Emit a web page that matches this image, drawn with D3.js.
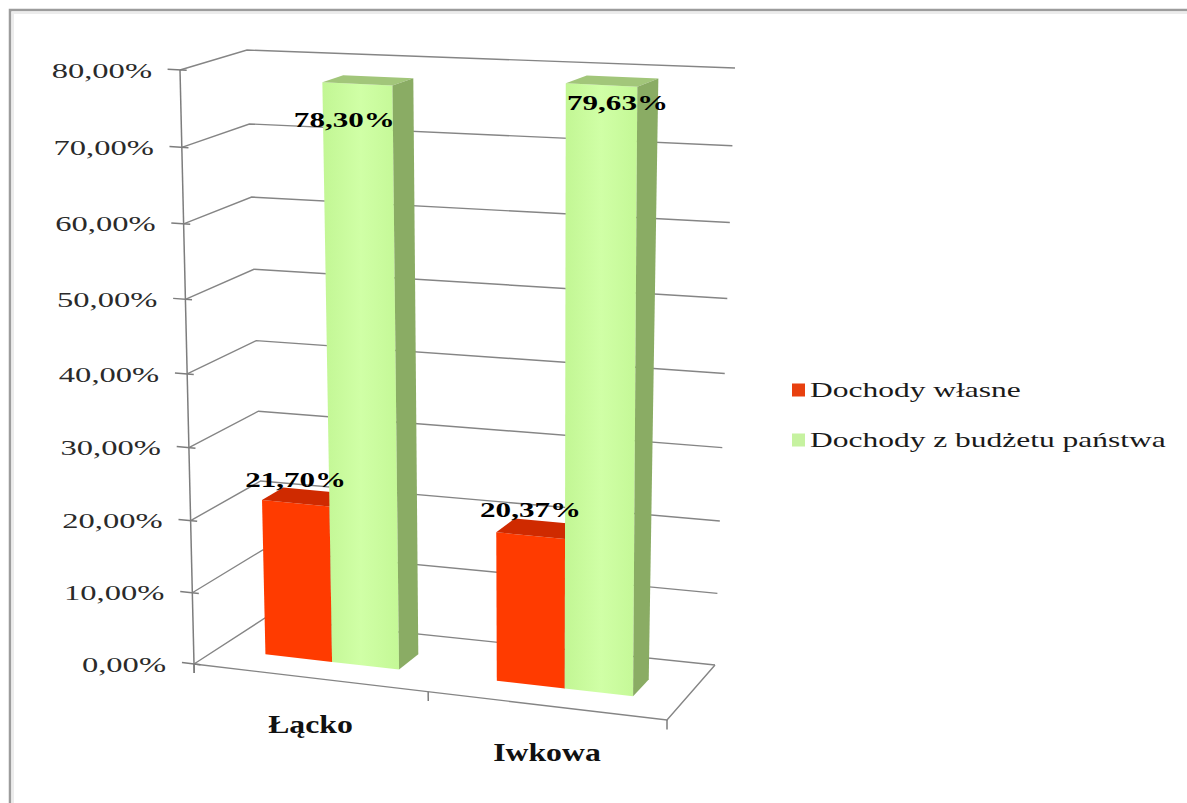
<!DOCTYPE html>
<html>
<head>
<meta charset="utf-8">
<script src="https://cdn.jsdelivr.net/npm/d3@7"></script>
<style>
  html, body { margin: 0; padding: 0; background: #fff; }
  svg { display: block; }
  text { font-family: "Liberation Serif", "Times New Roman", serif; }
</style>
</head>
<body>
<svg id="chart" width="1187" height="803"></svg>
<script>
// ---- data ----
const categories = ["Łącko", "Iwkowa"];
const seriesNames = ["Dochody własne", "Dochody z budżetu państwa"];
const ownIncome = [21.70, 20.37];      // Dochody własne (%)
const stateBudget = [78.30, 79.63];    // Dochody z budżetu państwa (%)
const yTicks = [0, 10, 20, 30, 40, 50, 60, 70, 80];

// ---- layout ----
const W = 1187, H = 803;
// screen corners of the 3D plot box (front/back, left/right, bottom/top)
const C = {
  flb: [194, 664], flt: [180, 70],
  frb: [667, 720], frt: [667, 95],
  blb: [265, 618], blt: [247, 50],
  brb: [715, 665], brt: [735, 68]
};
const RU = 1.02, RV = 1.048;     // perspective foreshortening along x and y
const W0 = 0.33, W1 = 0.64;      // bar depth range inside the floor
const colors = {
  own: { front: "#ff3b00", top: "#cf2a00", side: "#b02000", key: "#e8400f" },
  state: { front: "url(#greenFront)", top: "#a2c67a", side: "#8aac64", key: "#c6f2a0" }
};
// label nudges relative to the top-front centre of each bar [series][category]
const labelNudge = [[[0, -24], [0, -26]], [[-13, 36], [16, 18]]];

const svg = d3.select("#chart");
const defs = svg.append("defs");
const g1 = defs.append("linearGradient").attr("id", "greenFront")
  .attr("x1", "0").attr("x2", "1").attr("y1", "0").attr("y2", "0");
g1.append("stop").attr("offset", "0%").attr("stop-color", "#c2f694");
g1.append("stop").attr("offset", "50%").attr("stop-color", "#d0ffa6");
g1.append("stop").attr("offset", "100%").attr("stop-color", "#c4f896");

// white background and chart border
svg.append("rect").attr("width", W).attr("height", H).attr("fill", "#fff");
svg.append("path").attr("d", `M10,${H} L10,10 L${W},10`)
  .attr("fill", "none").attr("stroke", "#9c9c9c").attr("stroke-width", 2.5);
svg.append("path").attr("d", `M13,${H} L13,13 L${W},13`)
  .attr("fill", "none").attr("stroke", "#ececec").attr("stroke-width", 2);

// ---- scales ----
const yScale = d3.scaleLinear().domain([0, 80]).range([0, 1]);
const x0 = d3.scaleBand().domain(categories).range([0, 1])
  .paddingInner(0.42).paddingOuter(0.21);
const x1 = d3.scaleBand().domain(["own", "state"]).range([0, x0.bandwidth()]);

// ---- 3D projection (perspective-warped trilinear box) ----
const warp = (t, r) => t / (r - (r - 1) * t);
const lerp = (p, q, t) => [p[0] + (q[0] - p[0]) * t, p[1] + (q[1] - p[1]) * t];
function project(u, v, w) {
  const a = warp(u, RU), b = warp(v, RV);
  const fb = lerp(C.flb, C.frb, a), ft = lerp(C.flt, C.frt, a);
  const bb = lerp(C.blb, C.brb, a), bt = lerp(C.blt, C.brt, a);
  return lerp(lerp(fb, ft, b), lerp(bb, bt, b), w);
}
const line = d3.line();
const poly = pts => line(pts.map(p => project(...p))) + "Z";
const seg = (a, b) => line([project(...a), project(...b)]);

// ---- walls: gridlines on the left and back walls ----
const grid = svg.append("g").attr("fill", "none")
  .attr("stroke", "#858585").attr("stroke-width", 1.4);
yTicks.forEach(t => {
  const v = yScale(t);
  grid.append("path").attr("d", line([project(0, v, 0), project(0, v, 1), project(1, v, 1)]));
});
// floor outline
grid.append("path").attr("d", line([project(0, 0, 0), project(1, 0, 0), project(1, 0, 1)]));

// value axis and its tick marks
const axis = svg.append("g").attr("fill", "none")
  .attr("stroke", "#7d7d7d").attr("stroke-width", 1.5);
axis.append("path").attr("d", seg([0, -0.016, 0], [0, 1, 0]));
yTicks.forEach(t => {
  const v = yScale(t);
  axis.append("path").attr("d", seg([-0.026, v, 0], [0.014, v, 0]));
});
// category tick marks on the floor front edge
[0, 0.5, 1].forEach(u => axis.append("path").attr("d", seg([u, 0, 0], [u, -0.016, 0])));

// value axis labels
const fmt = t => t.toFixed(2).replace(".", ",") + "%";
yTicks.forEach(t => {
  const p = project(0, yScale(t), 0);
  svg.append("text")
    .attr("transform", `translate(${p[0] - 28},${p[1]}) scale(1.48,1)`)
    .attr("text-anchor", "end").attr("dy", "0.35em")
    .attr("font-size", 22).attr("fill", "#2a2a2a")
    .text(fmt(t));
});

// category labels
categories.forEach(c => {
  const p = project(x0(c) + x0.bandwidth() / 2, 0, 0);
  svg.append("text")
    .attr("transform", `translate(${p[0]},${p[1] + 46}) scale(1.27,1)`)
    .attr("text-anchor", "middle").attr("dy", "0.35em")
    .attr("font-size", 25).attr("font-weight", "bold").attr("fill", "#111")
    .text(c);
});

// ---- bars (drawn left to right so nearer faces overlap) ----
const bars = [];
categories.forEach((c, i) => {
  [["own", ownIncome[i]], ["state", stateBudget[i]]].forEach(([key, val], j) => {
    bars.push({ c, i, j, key, val });
  });
});
const barG = svg.append("g");
bars.forEach(d => {
  const u0 = x0(d.c) + x1(d.key), u1 = u0 + x1.bandwidth();
  const v1 = yScale(d.val);
  const col = colors[d.key];
  barG.append("path").attr("fill", col.front)
    .attr("d", poly([[u0, 0, W0], [u1, 0, W0], [u1, v1, W0], [u0, v1, W0]]));
  barG.append("path").attr("fill", col.top)
    .attr("d", poly([[u0, v1, W0], [u1, v1, W0], [u1, v1, W1], [u0, v1, W1]]));
  barG.append("path").attr("fill", col.side)
    .attr("d", poly([[u1, 0, W0], [u1, 0, W1], [u1, v1, W1], [u1, v1, W0]]));
});

// value labels
bars.forEach(d => {
  const u = x0(d.c) + x1(d.key) + x1.bandwidth() / 2;
  const p = project(u, yScale(d.val), W0);
  const n = labelNudge[d.j][d.i];
  svg.append("text")
    .attr("transform", `translate(${p[0] + n[0]},${p[1] + n[1]}) scale(1.48,1)`)
    .attr("text-anchor", "middle").attr("dy", "0.35em")
    .attr("font-size", 21).attr("font-weight", "bold").attr("fill", "#000")
    .text(d.val.toFixed(2).replace(".", ",") + "%");
});

// ---- legend ----
const legend = svg.append("g");
seriesNames.forEach((name, k) => {
  const key = k === 0 ? "own" : "state";
  const y = 390 + k * 50;
  legend.append("rect").attr("x", 792).attr("y", y - 6.5)
    .attr("width", 13).attr("height", 13).attr("fill", colors[key].key);
  legend.append("text")
    .attr("transform", `translate(810,${y}) scale(1.5,1)`)
    .attr("dy", "0.35em").attr("font-size", 21).attr("fill", "#1a1a1a")
    .text(name);
});
</script>
</body>
</html>
